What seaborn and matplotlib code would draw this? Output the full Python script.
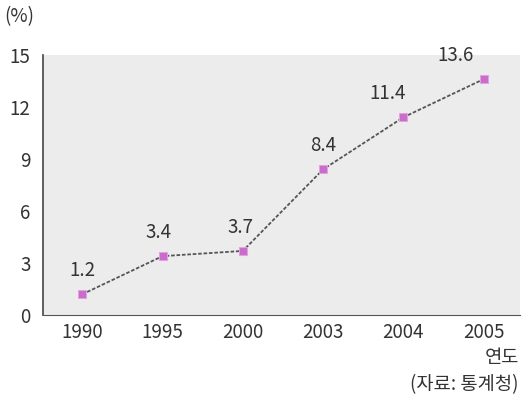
import matplotlib
matplotlib.use("Agg")
import matplotlib.pyplot as plt
import seaborn as sns
import pandas as pd

# 데이터
years = ["1990", "1995", "2000", "2003", "2004", "2005"]
values = [1.2, 3.4, 3.7, 8.4, 11.4, 13.6]
yticks = [0, 3, 6, 9, 12, 15]

df = pd.DataFrame({"year": years, "value": values})

sns.set_style("white")
plt.rcParams["font.family"] = ["Noto Sans CJK KR", "DejaVu Sans"]

fig = plt.figure(figsize=(5.23, 4.03), dpi=100)
ax = fig.add_axes([0.082, 0.218, 0.912, 0.646])
ax.set_facecolor("#ececec")

x = list(range(len(years)))
sns.lineplot(x=x, y=df["value"], ax=ax, color="#555555", linestyle=(0, (2, 1)),
             linewidth=1.3, marker="s", markersize=5.5, markerfacecolor="#c86ec8",
             markeredgecolor="#e3a0e3", zorder=3)

# 값 라벨 (끝의 두 개는 왼쪽으로 살짝 비켜 있음)
label_dx = [0, -0.05, -0.03, 0, -0.2, -0.35]
for xi, v, dx in zip(x, values, label_dx):
    ax.text(xi + dx, v + 0.75, f"{v}", ha="center", va="bottom", fontsize=13.5,
            color="#333333")

ax.set_xlim(-0.49, 5.45)
ax.set_ylim(0, 15)
ax.set_xticks(x)
ax.set_xticklabels(years)
ax.set_yticks(yticks)
ax.tick_params(axis="both", direction="in", length=4, width=0.8, color="#555555",
               labelsize=13.5, labelcolor="#333333")
ax.tick_params(axis="x", pad=5)
ax.tick_params(axis="y", pad=9)
ax.set_xlabel("")
ax.set_ylabel("")

for s in ["top", "right"]:
    ax.spines[s].set_visible(False)
ax.spines["left"].set_color("#444444")
ax.spines["left"].set_linewidth(1.2)
ax.spines["bottom"].set_color("#555555")
ax.spines["bottom"].set_linestyle((0, (2, 1)))

fig.text(4 / 523, 1 - 17 / 403, "(%)", ha="left", va="center", fontsize=13.5, color="#333333")
fig.text(519 / 523, 1 - 358 / 403, "연도", ha="right", va="center", fontsize=13.5, color="#333333")
fig.text(519 / 523, 1 - 385 / 403, "(자료: 통계청)", ha="right", va="center", fontsize=13.5, color="#333333")

fig.savefig("out.png", dpi=100)
